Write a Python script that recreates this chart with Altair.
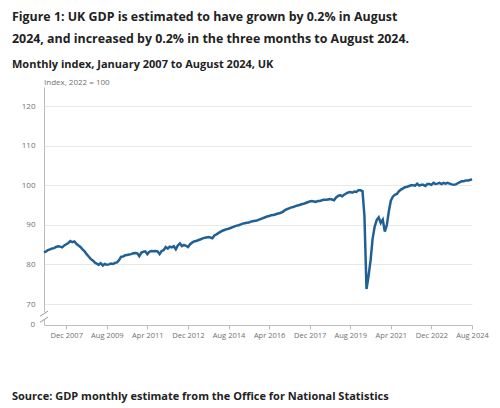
import altair as alt
import pandas as pd

# UK monthly GDP index (2022 = 100), January 2007 to August 2024
gdp_2007 = [83.0, 83.3, 83.6, 83.8, 84.0, 84.1, 84.4, 84.6, 84.5, 84.3, 84.8, 85.1]
gdp_2008 = [85.4, 85.9, 85.6, 85.8, 85.2, 84.8, 84.4, 83.8, 83.3, 82.6, 82.0, 81.4]
gdp_2009 = [81.0, 80.5, 80.2, 79.9, 80.3, 79.7, 80.1, 79.9, 80.0, 80.2, 80.1, 80.4]
gdp_2010 = [80.5, 81.1, 81.9, 82.0, 82.3, 82.4, 82.5, 82.6, 82.8, 82.9, 82.8, 82.1]
gdp_2011 = [83.0, 83.2, 83.3, 82.6, 83.2, 83.4, 83.3, 83.4, 83.3, 82.6, 83.4, 83.6]
gdp_2012 = [84.4, 84.0, 84.5, 84.3, 84.6, 83.8, 84.8, 85.3, 84.6, 84.9, 84.7, 84.4]
gdp_2013 = [85.1, 85.5, 85.8, 85.9, 86.1, 86.3, 86.5, 86.7, 86.8, 86.9, 86.8, 86.6]
gdp_2014 = [87.3, 87.6, 87.9, 88.2, 88.5, 88.7, 88.9, 89.0, 89.2, 89.4, 89.6, 89.8]
gdp_2015 = [89.9, 90.1, 90.3, 90.4, 90.5, 90.6, 90.8, 90.9, 91.0, 91.1, 91.3, 91.5]
gdp_2016 = [91.7, 91.9, 92.1, 92.2, 92.4, 92.5, 92.6, 92.8, 92.9, 93.1, 93.4, 93.8]
gdp_2017 = [94.0, 94.2, 94.4, 94.5, 94.7, 94.9, 95.0, 95.2, 95.3, 95.5, 95.7, 95.9]
gdp_2018 = [96.0, 95.9, 95.8, 96.0, 96.0, 96.2, 96.3, 96.3, 96.4, 96.5, 96.4, 96.2]
gdp_2019 = [96.9, 97.3, 97.5, 97.2, 97.6, 97.9, 98.2, 98.3, 98.1, 98.4, 98.3, 98.7]
gdp_2020 = [98.7, 98.5, 92.3, 73.8, 77.0, 81.0, 86.4, 89.5, 91.2, 91.9, 90.5, 91.3]
gdp_2021 = [88.3, 90.0, 93.3, 96.1, 97.1, 97.6, 97.8, 98.5, 98.9, 99.2, 99.5, 99.6]
gdp_2022 = [99.8, 100.0, 100.0, 99.9, 100.4, 99.9, 100.1, 100.1, 99.8, 100.3, 100.3, 100.1]
gdp_2023 = [100.6, 100.3, 100.4, 100.6, 100.3, 100.6, 100.4, 100.6, 100.4, 100.2, 100.1, 100.2]
gdp_2024 = [100.5, 100.8, 101.0, 101.0, 101.2, 101.2, 101.3, 101.5]

series = [gdp_2007, gdp_2008, gdp_2009, gdp_2010, gdp_2011, gdp_2012, gdp_2013,
          gdp_2014, gdp_2015, gdp_2016, gdp_2017, gdp_2018, gdp_2019, gdp_2020,
          gdp_2021, gdp_2022, gdp_2023, gdp_2024]
start_year = 2007

tick_months = [(2007, 12), (2009, 8), (2011, 4), (2012, 12), (2014, 8), (2016, 4),
               (2017, 12), (2019, 8), (2021, 4), (2022, 12), (2024, 8)]
y_ticks = [70, 80, 90, 100, 110, 120]

title_lines = ["Figure 1: UK GDP is estimated to have grown by 0.2% in August",
               "2024, and increased by 0.2% in the three months to August 2024."]
subtitle_text = "Monthly index, January 2007 to August 2024, UK"
axis_note = "Index, 2022 = 100"
zero_text = "0"
source_text = "Source: GDP monthly estimate from the Office for National Statistics"

rows = []
for i, vals in enumerate(series):
    for j, v in enumerate(vals):
        rows.append({"date": f"{start_year + i}-{j + 1:02d}-01", "value": v})
df = pd.DataFrame(rows)

FONT = "Open Sans"
TEXT_DARK = "#222222"
AXIS_GREY = "#707070"
LINE_BLUE = "#206095"

# the value axis is broken: its foot stands for zero
y_min, y_max = 64.7, 124.8
PLOT_H = 238

x_enc = alt.X(
    "date:T",
    scale=alt.Scale(type="utc",
                    domain=[alt.DateTime(year=2007, month=1, date=1, utc=True),
                            alt.DateTime(year=2024, month=8, date=1, utc=True)]),
    axis=alt.Axis(
        values=[alt.DateTime(year=y, month=m, date=1, utc=True) for y, m in tick_months],
        tickCount=30, format="%b %Y", title=None, grid=False,
        labelOverlap=False, labelFlush=False,
        labelFont=FONT, labelFontSize=7.5, labelColor=AXIS_GREY, labelPadding=2,
        tickSize=4, tickColor="#bdbdbd", domainColor="#bdbdbd",
    ),
)
y_enc = alt.Y(
    "value:Q",
    scale=alt.Scale(domain=[y_min, y_max], nice=False, zero=False),
    axis=alt.Axis(
        values=y_ticks, tickCount=30, title=None, ticks=False,
        labelOverlap=False, labelFlush=False,
        labelFont=FONT, labelFontSize=8, labelColor=AXIS_GREY, labelPadding=9,
        gridColor="#e8e8e8", domainColor="#bdbdbd",
    ),
)

line = alt.Chart(df).mark_line(color=LINE_BLUE, strokeWidth=2.5).encode(x=x_enc, y=y_enc)

# zero label at the foot of the broken axis
zero_label = alt.Chart(pd.DataFrame({"t": [zero_text]})).mark_text(
    align="right", baseline="middle", font=FONT, fontSize=8, color=AXIS_GREY
).encode(text=alt.value(zero_text), x=alt.value(-9), y=alt.value(PLOT_H))

# axis break on the value axis between 0 and 70
gap_df = pd.DataFrame({"lo": [66.2], "hi": [67.9]})
gap = alt.Chart(gap_df).mark_rect(color="white").encode(
    y="lo:Q", y2="hi:Q", x=alt.value(-2), x2=alt.value(2)
)
slash_df = pd.DataFrame({"lo": [65.4, 66.9], "hi": [66.7, 68.2]})
slashes = alt.Chart(slash_df).mark_rule(color="#9a9a9a", strokeWidth=1).encode(
    y="lo:Q", y2="hi:Q", x=alt.value(-4), x2=alt.value(4)
)

note = alt.Chart(pd.DataFrame({"t": [axis_note]})).mark_text(
    align="left", baseline="bottom", font=FONT, fontSize=8, color=AXIS_GREY
).encode(text="t:N", x=alt.value(0), y=alt.value(0))

source = alt.Chart(pd.DataFrame({"t": [source_text]})).mark_text(
    align="left", baseline="middle", font=FONT, fontSize=11, fontWeight="bold",
    color=TEXT_DARK
).encode(text="t:N", x=alt.value(-32), y=alt.value(310))

chart = alt.layer(line, gap, slashes, zero_label, note, source).properties(
    width=428,
    height=PLOT_H,
    autosize=alt.AutoSizeParams(type="none"),
    padding={"left": 44, "top": 87, "right": 28, "bottom": 83},
    title=alt.TitleParams(
        text=title_lines,
        subtitle=subtitle_text,
        anchor="start",
        frame="group",
        dx=-32,
        font=FONT,
        fontSize=12.4,
        fontWeight="bold",
        color=TEXT_DARK,
        lineHeight=22,
        subtitleFont=FONT,
        subtitleFontSize=11,
        subtitleFontWeight="bold",
        subtitleColor=TEXT_DARK,
        subtitlePadding=14,
        offset=9,
    ),
).configure_view(stroke=None)

chart.save("out.html", embed_options={"renderer": "svg", "actions": False})
